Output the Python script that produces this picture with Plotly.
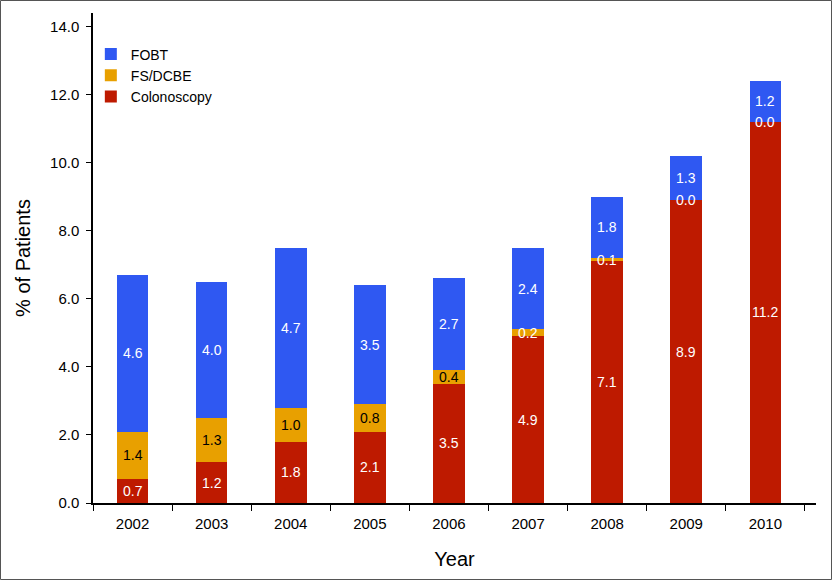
import plotly.graph_objects as go

years = ["2002", "2003", "2004", "2005", "2006", "2007", "2008", "2009", "2010"]
colonoscopy = [0.7, 1.2, 1.8, 2.1, 3.5, 4.9, 7.1, 8.9, 11.2]
fs_dcbe = [1.4, 1.3, 1.0, 0.8, 0.4, 0.2, 0.1, 0.0, 0.0]
fobt = [4.6, 4.0, 4.7, 3.5, 2.7, 2.4, 1.8, 1.3, 1.2]
y_ticks = [0, 2, 4, 6, 8, 10, 12, 14]

C_RED = "#BE1A00"
C_ORG = "#E8A000"
C_BLU = "#2F58F2"
FONT = "Liberation Sans, Arial, sans-serif"

fig = go.Figure()
for name, vals, col in [("Colonoscopy", colonoscopy, C_RED),
                        ("FS/DCBE", fs_dcbe, C_ORG),
                        ("FOBT", fobt, C_BLU)]:
    fig.add_trace(go.Bar(x=years, y=vals, name=name, marker=dict(color=col, line=dict(width=0))))

annotations = []
for i, yr in enumerate(years):
    base = 0.0
    for vals, kind in [(colonoscopy, "c"), (fs_dcbe, "f"), (fobt, "b")]:
        v = vals[i]
        mid = base + v / 2
        if kind == "f":
            color = "black" if v >= 0.3 else "white"
        else:
            color = "white"
        annotations.append(dict(x=i, y=mid, xref="x", yref="y", text=f"{v:.1f}",
                                showarrow=False, font=dict(color=color, size=14, family=FONT)))
        base += v

fig.update_layout(
    width=832, height=580,
    margin=dict(l=93, r=16, t=13, b=77),
    paper_bgcolor="white", plot_bgcolor="white",
    barmode="stack", bargap=0.6,
    font=dict(family=FONT, color="black"),
    showlegend=True,
    legend=dict(x=-0.003, y=0.948, xanchor="left", yanchor="top", traceorder="reversed",
                font=dict(size=14), bgcolor="rgba(0,0,0,0)", itemwidth=30),
    annotations=annotations,
    xaxis=dict(type="category", range=[-0.5, 8.64], showline=True, linecolor="black", linewidth=1.5,
               ticks="outside", tickson="boundaries", ticklen=6, tickcolor="black", tickwidth=1.2,
               tickfont=dict(size=15), showgrid=False, zeroline=False, automargin=False,
               ticklabelstandoff=6,
               title=dict(text="Year", font=dict(size=20), standoff=21)),
    yaxis=dict(range=[0, 14.4], tickvals=y_ticks, tickformat=".1f", showline=True, linecolor="black",
               linewidth=1.5, ticks="outside", ticklen=5, tickcolor="black", tickwidth=1.2,
               tickfont=dict(size=15), showgrid=False, zeroline=False, automargin=False,
               ticklabelstandoff=4,
               title=dict(text="% of Patients", font=dict(size=20), standoff=14)),
    shapes=[dict(type="rect", xref="paper", yref="paper",
                 x0=(0.5 - 93) / 723, x1=(831.5 - 93) / 723,
                 y0=(503 - 579.5) / 490, y1=(503 - 0.5) / 490,
                 line=dict(color="#555555", width=1), fillcolor="rgba(0,0,0,0)", layer="below")],
)

fig.write_html("out.html", config={"displayModeBar": False},
               post_script="document.body.style.margin='0';")
